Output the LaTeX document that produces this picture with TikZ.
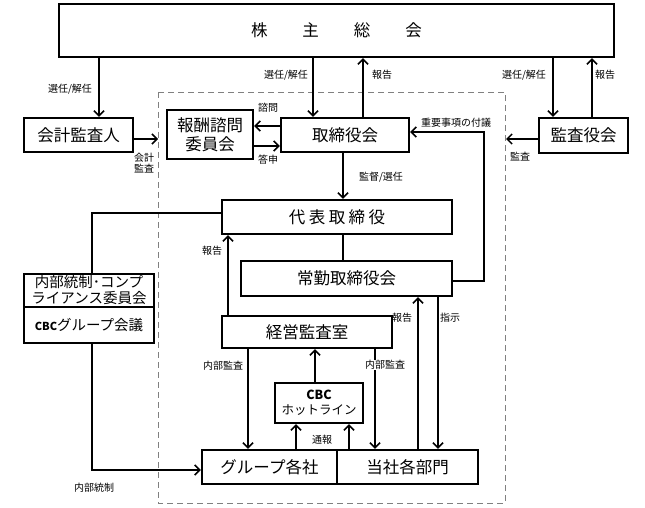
\documentclass[tikz,border=0pt]{standalone}
\usepackage{fontspec}
\setmainfont{Noto Sans CJK JP}
\usetikzlibrary{arrows.meta}
\begin{document}
\begin{tikzpicture}[x=1pt,y=-1pt,
  box/.style={draw, line width=2.4pt, inner sep=0pt, align=center, font=\fontsize{16.5}{19}\selectfont},
  conn/.style={line width=1.5pt},
  arr/.style={conn, -{Straight Barb[length=5pt,width=10pt]}},
  lbl/.style={font=\fontsize{10}{11}\selectfont, inner sep=0.5pt, align=center},
  dashbox/.style={draw=gray, line width=0.9pt, dash pattern=on 6pt off 4pt}
]
\useasboundingbox (0,0) rectangle (645,508);

% dashed company boundary
\draw[dashbox] (158,92) rectangle (505,503);

% boxes
\node[box, minimum width=555pt, minimum height=53pt] (top) at (336.5,30.5)
  {株\hspace{35pt}主\hspace{35pt}総\hspace{35pt}会};
\node[box, minimum width=109pt, minimum height=34pt] (kaikei) at (78.5,135) {会計監査人};
\node[box, minimum width=86pt, minimum height=49pt] (hoshu) at (210,134.5) {報酬諮問\\委員会};
\node[box, minimum width=128pt, minimum height=34pt] (tori) at (345,135) {取締役会};
\node[box, minimum width=89pt, minimum height=35pt] (kansa) at (583.5,135.5) {監査役会};
\node[box, minimum width=230pt, minimum height=34pt] (daihyo) at (337,217)
  {代\hspace{3.5pt}表\hspace{3.5pt}取\hspace{3.5pt}締\hspace{3.5pt}役};
\node[box, minimum width=211pt, minimum height=35pt] (jokin) at (346.5,278.5) {常勤取締役会};
\node[box, minimum width=170pt, minimum height=32pt] (keiei) at (307,332) {経営監査室};
\node[box, minimum width=88pt, minimum height=40pt, font=\fontsize{12.5}{15}\selectfont] (cbc) at (319,403)
  {\textbf{CBC}\\ホットライン};
\node[box, minimum width=135pt, minimum height=34pt] (group) at (269.5,467) {グループ各社};
\node[box, minimum width=141pt, minimum height=34pt] (tosha) at (407.5,467) {当社各部門};
\node[box, minimum width=130pt, minimum height=33pt, font=\fontsize{14.5}{16}\selectfont] (nb1) at (89,290.5)
  {内部統制･コンプ\\ライアンス委員会};
\node[box, minimum width=130pt, minimum height=36pt, font=\fontsize{14.5}{16}\selectfont] (nb2) at (89,325)
  {{\fontsize{11}{13}\selectfont\textbf{CBC}}グループ会議};

% connectors from shareholders meeting
\draw[arr] (top.south -| 99,0) -- (kaikei.north -| 99,0);
\node[lbl] (l1) at (70,89) {選任/解任};
\draw[arr] (top.south -| 313,0) -- (tori.north -| 313,0);
\node[lbl] (l2) at (286,75) {選任/解任};
\draw[arr] (tori.north -| 363,0) -- (top.south -| 363,0);
\node[lbl] (l3) at (382,75) {報告};
\draw[arr] (top.south -| 553,0) -- (kansa.north -| 553,0);
\node[lbl] (l4) at (524,75) {選任/解任};
\draw[arr] (kansa.north -| 592,0) -- (top.south -| 592,0);
\node[lbl] (l5) at (605,75) {報告};

% accounting auditor
\coordinate (dl) at (158,139);
\draw[arr] (kaikei.east |- dl) -- (dl);
\node[lbl, font=\fontsize{10}{10.5}\selectfont] (l6) at (144,163) {会計\\監査};

% compensation committee
\draw[arr] (tori.west |- 0,126) -- (hoshu.east |- 0,126);
\node[lbl] (l7) at (268,108) {諮問};
\draw[arr] (hoshu.east |- 0,146) -- (tori.west |- 0,146);
\node[lbl] (l8) at (268,160) {答申};

% audit board
\coordinate (dr) at (506,139);
\draw[arr] (kansa.west |- dr) -- (dr);
\node[lbl] (l9) at (520,157) {監査};

% board -> representative director
\draw[arr] (tori.south -| 343,0) -- (daihyo.north -| 343,0);
\node[lbl] (l10) at (381,177) {監督/選任};

% important matters
\draw[arr] (jokin.east |- 0,281) -| (484,200) |- (tori.east |- 0,132);
\node[lbl] (l11) at (456,123) {重要事項の付議};

% representative -> executive board
\draw[conn] (daihyo.south -| 343,0) -- (jokin.north -| 343,0);

% representative -> internal control committee
\draw[conn] (daihyo.west |- 0,213) -| (nb1.north -| 92,0);

% internal control -> group companies
\draw[arr] (nb2.south -| 92,0) |- (group.west |- 0,470);
\node[lbl] (l12) at (94,488) {内部統制};

% audit office report
\draw[arr] (keiei.north -| 228,0) -- (daihyo.south -| 228,0);
\node[lbl] (l13) at (212,251) {報告};

% internal audit
\draw[arr] (keiei.south -| 248,0) -- (group.north -| 248,0);
\node[lbl] (l14) at (223,366) {内部監査};
\draw[arr] (keiei.south -| 375,0) -- (tosha.north -| 375,0);
\node[lbl, fill=white] (l15) at (385,365) {内部監査};

% hotline
\draw[arr] (cbc.north -| 315,0) -- (keiei.south -| 315,0);
\draw[arr] (group.north -| 296,0) -- (cbc.south -| 296,0);
\draw[arr] (tosha.north -| 349,0) -- (cbc.south -| 349,0);
\node[lbl] (l16) at (322,440) {通報};

% report / instruction
\draw[arr] (tosha.north -| 418,0) -- (jokin.south -| 418,0);
\node[lbl] (l17) at (402,318) {報告};
\draw[arr] (jokin.south -| 438,0) -- (tosha.north -| 438,0);
\node[lbl] (l18) at (450,318) {指示};
\end{tikzpicture}
\end{document}
